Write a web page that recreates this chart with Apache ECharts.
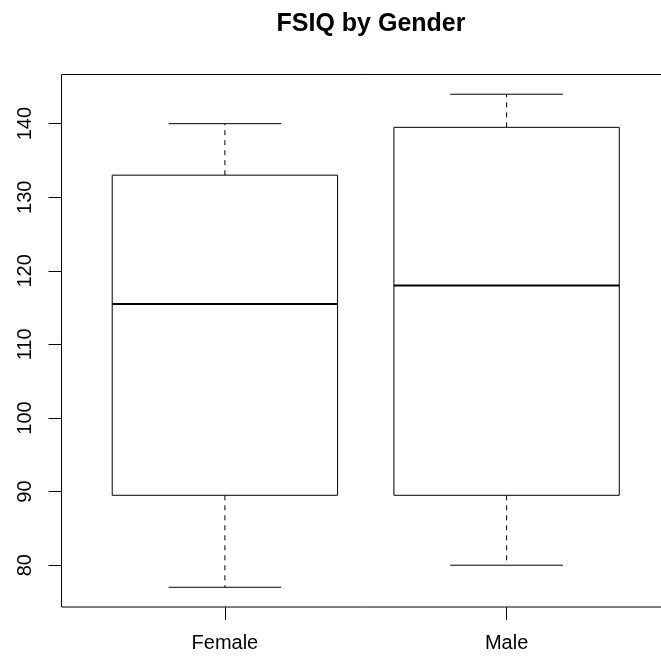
<!DOCTYPE html>
<html>
<head>
<meta charset="utf-8">
<script src="https://cdn.jsdelivr.net/npm/echarts@6/dist/echarts.min.js"></script>
<style>
html, body { margin: 0; padding: 0; background: #fff; }
#box { width: 661px; height: 658px; }
</style>
</head>
<body>
<div id="box"></div>
<script>
var groups = ['Female', 'Male'];
var mins = [77, 80];
var q1s = [89.5, 89.5];
var medians = [115.5, 118];
var q3s = [133, 139.5];
var maxs = [140, 144];
var yTicks = [80, 90, 100, 110, 120, 130, 140];

var chart = echarts.init(document.getElementById('box'));

var boxData = [];
for (var i = 0; i < groups.length; i++) {
    boxData.push([i + 1, mins[i], q1s[i], medians[i], q3s[i], maxs[i]]);
}

function line(p1, p2, w, dash) {
    return {
        type: 'line',
        shape: { x1: p1[0], y1: p1[1], x2: p2[0], y2: p2[1] },
        style: { stroke: '#000', lineWidth: w, lineDash: dash || null, fill: null }
    };
}

function renderBox(params, api) {
    var x = api.value(0);
    var lo = api.value(1), q1 = api.value(2), med = api.value(3), q3 = api.value(4), hi = api.value(5);
    var bl = api.coord([x - 0.4, q3]);
    var br = api.coord([x + 0.4, q1]);
    return {
        type: 'group',
        children: [
            line(api.coord([x, q3]), api.coord([x, hi]), 1, [5, 5]),
            line(api.coord([x, q1]), api.coord([x, lo]), 1, [5, 5]),
            line(api.coord([x - 0.2, hi]), api.coord([x + 0.2, hi]), 1),
            line(api.coord([x - 0.2, lo]), api.coord([x + 0.2, lo]), 1),
            {
                type: 'rect',
                shape: { x: bl[0], y: bl[1], width: br[0] - bl[0], height: br[1] - bl[1] },
                style: { stroke: '#000', lineWidth: 1, fill: '#fff' }
            },
            line(api.coord([x - 0.4, med]), api.coord([x + 0.4, med]), 2)
        ]
    };
}

var option = {
    animation: false,
    backgroundColor: '#fff',
    title: {
        text: 'FSIQ by Gender',
        left: 366,
        textAlign: 'center',
        top: 7,
        textStyle: { fontFamily: 'Liberation Sans', fontSize: 25, fontWeight: 'bold', color: '#000' }
    },
    grid: {
        left: 61.5, top: 74.5, bottom: 51, right: -9,
        outerBoundsMode: 'none',
        containLabel: false,
        show: true, borderColor: '#000', borderWidth: 1, backgroundColor: 'transparent'
    },
    xAxis: {
        type: 'value',
        min: 0.42, max: 2.58,
        splitLine: { show: false },
        axisLine: { show: false },
        axisTick: { show: true, customValues: [1, 2], length: 13, lineStyle: { color: '#000' } },
        axisLabel: {
            customValues: [1, 2],
            margin: 26,
            fontFamily: 'Liberation Sans', fontSize: 20, color: '#000',
            formatter: function (v) { return groups[Math.round(v) - 1]; }
        }
    },
    yAxis: {
        type: 'value',
        min: 74.32, max: 146.68,
        splitLine: { show: false },
        axisLine: { show: false },
        axisTick: { show: true, customValues: yTicks, length: 13, lineStyle: { color: '#000' } },
        axisLabel: {
            customValues: yTicks,
            rotate: 90,
            margin: 26,
            fontFamily: 'Liberation Sans', fontSize: 20, color: '#000'
        }
    },
    series: [{
        type: 'custom',
        renderItem: renderBox,
        encode: { x: 0, y: [1, 2, 3, 4, 5] },
        data: boxData
    }]
};
chart.setOption(option);
</script>
</body>
</html>
